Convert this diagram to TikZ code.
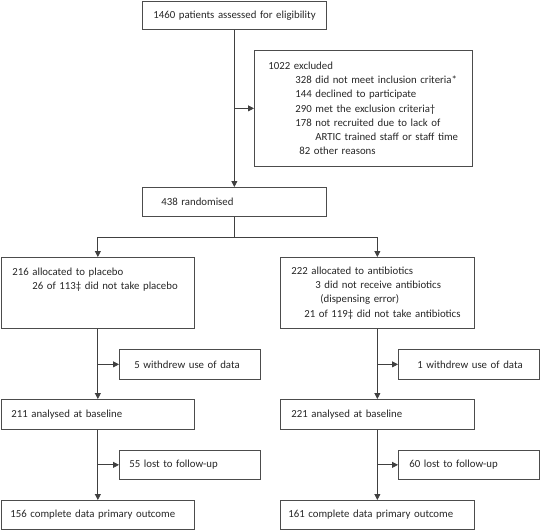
\documentclass[tikz,border=0pt]{standalone}
\usepackage{fontspec}
\setmainfont{Carlito}
\usetikzlibrary{arrows.meta,calc}
\begin{document}
\begin{tikzpicture}[x=1pt,y=-1pt,
  box/.style={draw=black!70, line width=0.7pt, anchor=north west, align=left,
    inner ysep=0pt, font=\fontsize{10.8}{14.3}\selectfont, text=black!85},
  conn/.style={draw=black!75, line width=0.8pt},
  arr/.style={conn, -{Triangle[width=6pt,length=6pt]}}]
\useasboundingbox (0,0) rectangle (540,530);
\node[box, text width=162pt, inner xsep=11pt, minimum height=28pt] (top) at (142,1) {\mbox{1460 patients assessed for eligibility}};
\node[box, text width=190pt, inner xsep=14pt, minimum height=116pt] (excl) at (254,50) {1022 excluded\\
\hspace*{27pt}\mbox{328 did not meet inclusion criteria*}\\
\hspace*{27pt}144 declined to participate\\
\hspace*{27pt}290 met the exclusion criteria†\\
\hspace*{27pt}\mbox{178 not recruited due to lack of}\\
\hspace*{47pt}\mbox{ARTIC trained staff or staff time}\\
\hspace*{31pt}82 other reasons};
\node[box, text width=146pt, inner xsep=19pt, minimum height=29pt] (rand) at (142,187) {438 randomised};
\node[box, text width=171pt, inner xsep=11pt, minimum height=71pt] (plac) at (1,257) {216 allocated to placebo\\
\hspace*{20pt}\mbox{26 of 113‡ did not take placebo}\\ ~\\ ~};
\node[box, text width=172pt, inner xsep=11pt, minimum height=71pt] (anti) at (280,257) {222 allocated to antibiotics\\
\hspace*{24pt}\mbox{3 did not receive antibiotics}\\
\hspace*{29pt}(dispensing error)\\
\hspace*{13pt}\mbox{21 of 119‡ did not take antibiotics}};
\node[box, text width=111pt, inner xsep=15pt, minimum height=30pt] (wl) at (119,349) {\mbox{5 withdrew use of data}};
\node[box, text width=103pt, inner xsep=19pt, minimum height=30pt] (wr) at (398,349) {\mbox{1 withdrew use of data}};
\node[box, text width=173pt, inner xsep=10pt, minimum height=30pt] (al) at (1,399) {\mbox{211 analysed at baseline}};
\node[box, text width=172pt, inner xsep=11pt, minimum height=30pt] (ar) at (280,399) {\mbox{221 analysed at baseline}};
\node[box, text width=121pt, inner xsep=10pt, minimum height=29pt] (ll) at (119,450) {\mbox{55 lost to follow-up}};
\node[box, text width=119pt, inner xsep=11pt, minimum height=29pt] (lr) at (398,450) {\mbox{60 lost to follow-up}};
\node[box, text width=175pt, inner xsep=9pt, minimum height=29pt] (cl) at (1,500) {\mbox{156 complete data primary outcome}};
\node[box, text width=178pt, inner xsep=8pt, minimum height=29pt] (cr) at (280,500) {\mbox{161 complete data primary outcome}};
% connectors
\draw[arr] (top) -- (rand);
\draw[arr] (top.south |- excl.west) -- (excl.west);
\coordinate (sp) at ($(rand.south)+(0,21)$);
\draw[conn] (rand.south) -- (sp);
\draw[arr] (sp) -| (plac.north);
\draw[arr] (sp) -| (anti.north);
\draw[arr] (plac) -- (al);
\draw[arr] (plac.south |- wl.west) -- (wl.west);
\draw[arr] (anti) -- (ar);
\draw[arr] (anti.south |- wr.west) -- (wr.west);
\draw[arr] (al) -- (cl);
\draw[arr] (al.south |- ll.west) -- (ll.west);
\draw[arr] (ar) -- (cr);
\draw[arr] (ar.south |- lr.west) -- (lr.west);
\end{tikzpicture}
\end{document}
